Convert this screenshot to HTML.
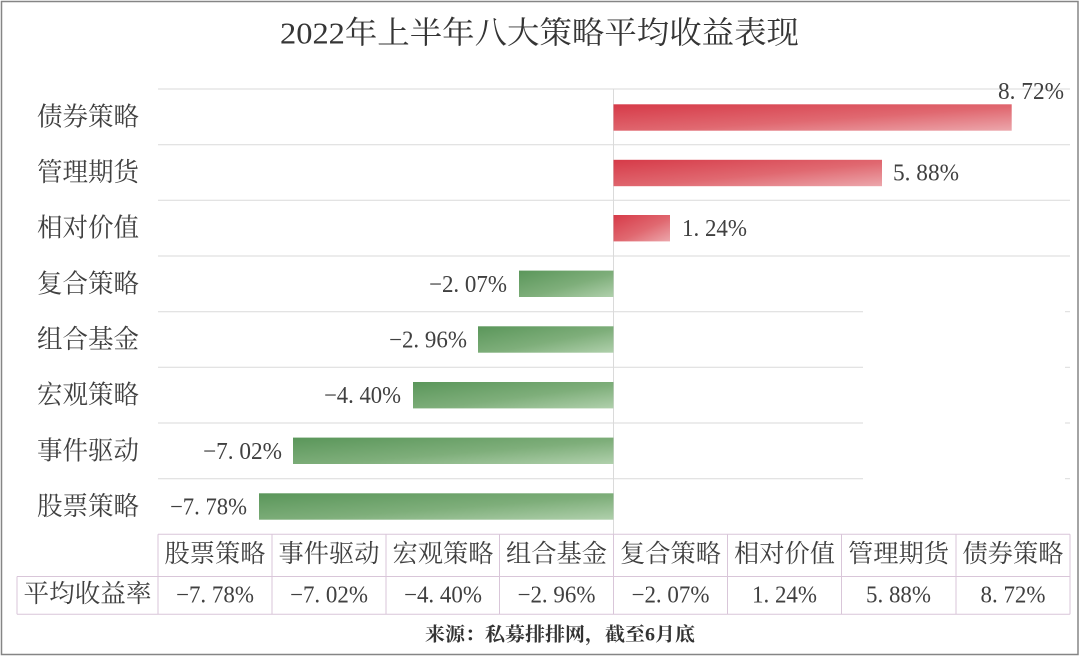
<!DOCTYPE html>
<html><head><meta charset="utf-8"><style>
html,body{margin:0;padding:0;background:#fff;width:1080px;height:656px;overflow:hidden}
svg{display:block}
text{font-family:"Liberation Serif","Noto Serif CJK SC",serif;fill:#404040}
</style></head><body>
<svg width="1080" height="656" viewBox="0 0 1080 656" xmlns="http://www.w3.org/2000/svg">
<defs>
<linearGradient id="red" x1="0" y1="0" x2="1" y2="1">
<stop offset="0" stop-color="#d63a48"/>
<stop offset="0.55" stop-color="#e06870"/>
<stop offset="1" stop-color="#eca7ac"/>
</linearGradient>
<linearGradient id="grn" x1="0" y1="0" x2="1" y2="1">
<stop offset="0" stop-color="#5a965a"/>
<stop offset="0.55" stop-color="#7eae7a"/>
<stop offset="1" stop-color="#b0d0ac"/>
</linearGradient>
</defs>
<rect x="0" y="0" width="1080" height="656" fill="#fff"/>
<rect x="1.5" y="1.5" width="1076.5" height="653" fill="none" stroke="#858585" stroke-width="1.5"/>

<!-- title -->
<text x="280" y="33" font-size="31" dominant-baseline="central" textLength="519" lengthAdjust="spacingAndGlyphs" style="fill:#353535">2022年上半年八大策略平均收益表现</text>

<!-- grid lines -->
<g stroke="#dadada" stroke-width="1">
<line x1="158" y1="89" x2="1070" y2="89"/>
<line x1="158" y1="144.7" x2="1070" y2="144.7"/>
<line x1="158" y1="200.3" x2="1070" y2="200.3"/>
<line x1="158" y1="256" x2="1070" y2="256"/>
<line x1="158" y1="311.7" x2="863" y2="311.7"/>
<line x1="158" y1="367.3" x2="863" y2="367.3"/>
<line x1="158" y1="423" x2="863" y2="423"/>
<line x1="158" y1="478.7" x2="863" y2="478.7"/>
<line x1="1065" y1="311.7" x2="1070" y2="311.7"/>
<line x1="1065" y1="367.3" x2="1070" y2="367.3"/>
<line x1="1065" y1="423" x2="1070" y2="423"/>
<line x1="1065" y1="478.7" x2="1070" y2="478.7"/>
<line x1="613.5" y1="89" x2="613.5" y2="534"/>
</g>

<!-- category labels -->
<g font-size="26">
<text x="37" y="117" dominant-baseline="central" textLength="102" lengthAdjust="spacingAndGlyphs">债券策略</text>
<text x="37" y="172.5" dominant-baseline="central" textLength="102" lengthAdjust="spacingAndGlyphs">管理期货</text>
<text x="37" y="228.2" dominant-baseline="central" textLength="102" lengthAdjust="spacingAndGlyphs">相对价值</text>
<text x="37" y="283.8" dominant-baseline="central" textLength="102" lengthAdjust="spacingAndGlyphs">复合策略</text>
<text x="37" y="339.5" dominant-baseline="central" textLength="102" lengthAdjust="spacingAndGlyphs">组合基金</text>
<text x="37" y="395.2" dominant-baseline="central" textLength="102" lengthAdjust="spacingAndGlyphs">宏观策略</text>
<text x="37" y="450.8" dominant-baseline="central" textLength="102" lengthAdjust="spacingAndGlyphs">事件驱动</text>
<text x="37" y="506.5" dominant-baseline="central" textLength="102" lengthAdjust="spacingAndGlyphs">股票策略</text>
</g>

<!-- bars -->
<rect x="613.5" y="104.3" width="398.2" height="26.4" fill="url(#red)"/>
<rect x="613.5" y="159.8" width="268.5" height="26.4" fill="url(#red)"/>
<rect x="613.5" y="215" width="56.5" height="26.4" fill="url(#red)"/>
<rect x="519" y="270.6" width="94.5" height="26.4" fill="url(#grn)"/>
<rect x="478" y="326.3" width="135.5" height="26.4" fill="url(#grn)"/>
<rect x="413" y="382" width="200.5" height="26.4" fill="url(#grn)"/>
<rect x="293" y="437.6" width="320.5" height="26.4" fill="url(#grn)"/>
<rect x="259" y="493.3" width="354.5" height="26.4" fill="url(#grn)"/>

<!-- value labels -->
<g font-size="24">
<text x="998" y="92" dominant-baseline="central" textLength="66" lengthAdjust="spacingAndGlyphs">8. 72%</text>
<text x="893" y="173.5" dominant-baseline="central" textLength="66" lengthAdjust="spacingAndGlyphs">5. 88%</text>
<text x="682" y="229" dominant-baseline="central" textLength="65" lengthAdjust="spacingAndGlyphs">1. 24%</text>
<text x="429" y="285" dominant-baseline="central" textLength="78" lengthAdjust="spacingAndGlyphs">−2. 07%</text>
<text x="389" y="340.5" dominant-baseline="central" textLength="78" lengthAdjust="spacingAndGlyphs">−2. 96%</text>
<text x="324" y="396" dominant-baseline="central" textLength="77" lengthAdjust="spacingAndGlyphs">−4. 40%</text>
<text x="203" y="452" dominant-baseline="central" textLength="79" lengthAdjust="spacingAndGlyphs">−7. 02%</text>
<text x="170" y="507.5" dominant-baseline="central" textLength="77" lengthAdjust="spacingAndGlyphs">−7. 78%</text>
</g>

<!-- table -->
<g stroke="#d9c6d9" stroke-width="1" fill="none">
<line x1="158" y1="534.3" x2="1070" y2="534.3"/>
<line x1="17" y1="576.5" x2="1070" y2="576.5"/>
<line x1="17" y1="614.3" x2="1070" y2="614.3"/>
<line x1="17" y1="576.5" x2="17" y2="614.3"/>
<line x1="158" y1="534.3" x2="158" y2="614.3"/>
<line x1="272" y1="534.3" x2="272" y2="614.3"/>
<line x1="386" y1="534.3" x2="386" y2="614.3"/>
<line x1="499.5" y1="534.3" x2="499.5" y2="614.3"/>
<line x1="613.5" y1="534.3" x2="613.5" y2="614.3"/>
<line x1="727.5" y1="534.3" x2="727.5" y2="614.3"/>
<line x1="841.5" y1="534.3" x2="841.5" y2="614.3"/>
<line x1="956" y1="534.3" x2="956" y2="614.3"/>
<line x1="1070" y1="534.3" x2="1070" y2="614.3"/>
</g>
<g font-size="25" text-anchor="middle">
<text x="215" y="554.5" dominant-baseline="central" textLength="101" lengthAdjust="spacingAndGlyphs">股票策略</text>
<text x="329" y="554.5" dominant-baseline="central" textLength="101" lengthAdjust="spacingAndGlyphs">事件驱动</text>
<text x="443" y="554.5" dominant-baseline="central" textLength="101" lengthAdjust="spacingAndGlyphs">宏观策略</text>
<text x="556.5" y="554.5" dominant-baseline="central" textLength="101" lengthAdjust="spacingAndGlyphs">组合基金</text>
<text x="670.5" y="554.5" dominant-baseline="central" textLength="101" lengthAdjust="spacingAndGlyphs">复合策略</text>
<text x="784.5" y="554.5" dominant-baseline="central" textLength="101" lengthAdjust="spacingAndGlyphs">相对价值</text>
<text x="898.5" y="554.5" dominant-baseline="central" textLength="101" lengthAdjust="spacingAndGlyphs">管理期货</text>
<text x="1013" y="554.5" dominant-baseline="central" textLength="101" lengthAdjust="spacingAndGlyphs">债券策略</text>
<text x="87.5" y="594.5" dominant-baseline="central" textLength="128" lengthAdjust="spacingAndGlyphs">平均收益率</text>
</g>
<g font-size="24" text-anchor="middle">
<text x="215" y="595.5" dominant-baseline="central" textLength="78" lengthAdjust="spacingAndGlyphs">−7. 78%</text>
<text x="329" y="595.5" dominant-baseline="central" textLength="78" lengthAdjust="spacingAndGlyphs">−7. 02%</text>
<text x="443" y="595.5" dominant-baseline="central" textLength="78" lengthAdjust="spacingAndGlyphs">−4. 40%</text>
<text x="556.5" y="595.5" dominant-baseline="central" textLength="78" lengthAdjust="spacingAndGlyphs">−2. 96%</text>
<text x="670.5" y="595.5" dominant-baseline="central" textLength="78" lengthAdjust="spacingAndGlyphs">−2. 07%</text>
<text x="784.5" y="595.5" dominant-baseline="central" textLength="65" lengthAdjust="spacingAndGlyphs">1. 24%</text>
<text x="898.5" y="595.5" dominant-baseline="central" textLength="65" lengthAdjust="spacingAndGlyphs">5. 88%</text>
<text x="1013" y="595.5" dominant-baseline="central" textLength="65" lengthAdjust="spacingAndGlyphs">8. 72%</text>
</g>

<!-- footer -->
<text x="425" y="635" font-size="19" font-weight="bold" dominant-baseline="central" textLength="270" lengthAdjust="spacingAndGlyphs" style="fill:#333">来源：私募排排网，截至6月底</text>
</svg>
</body></html>
